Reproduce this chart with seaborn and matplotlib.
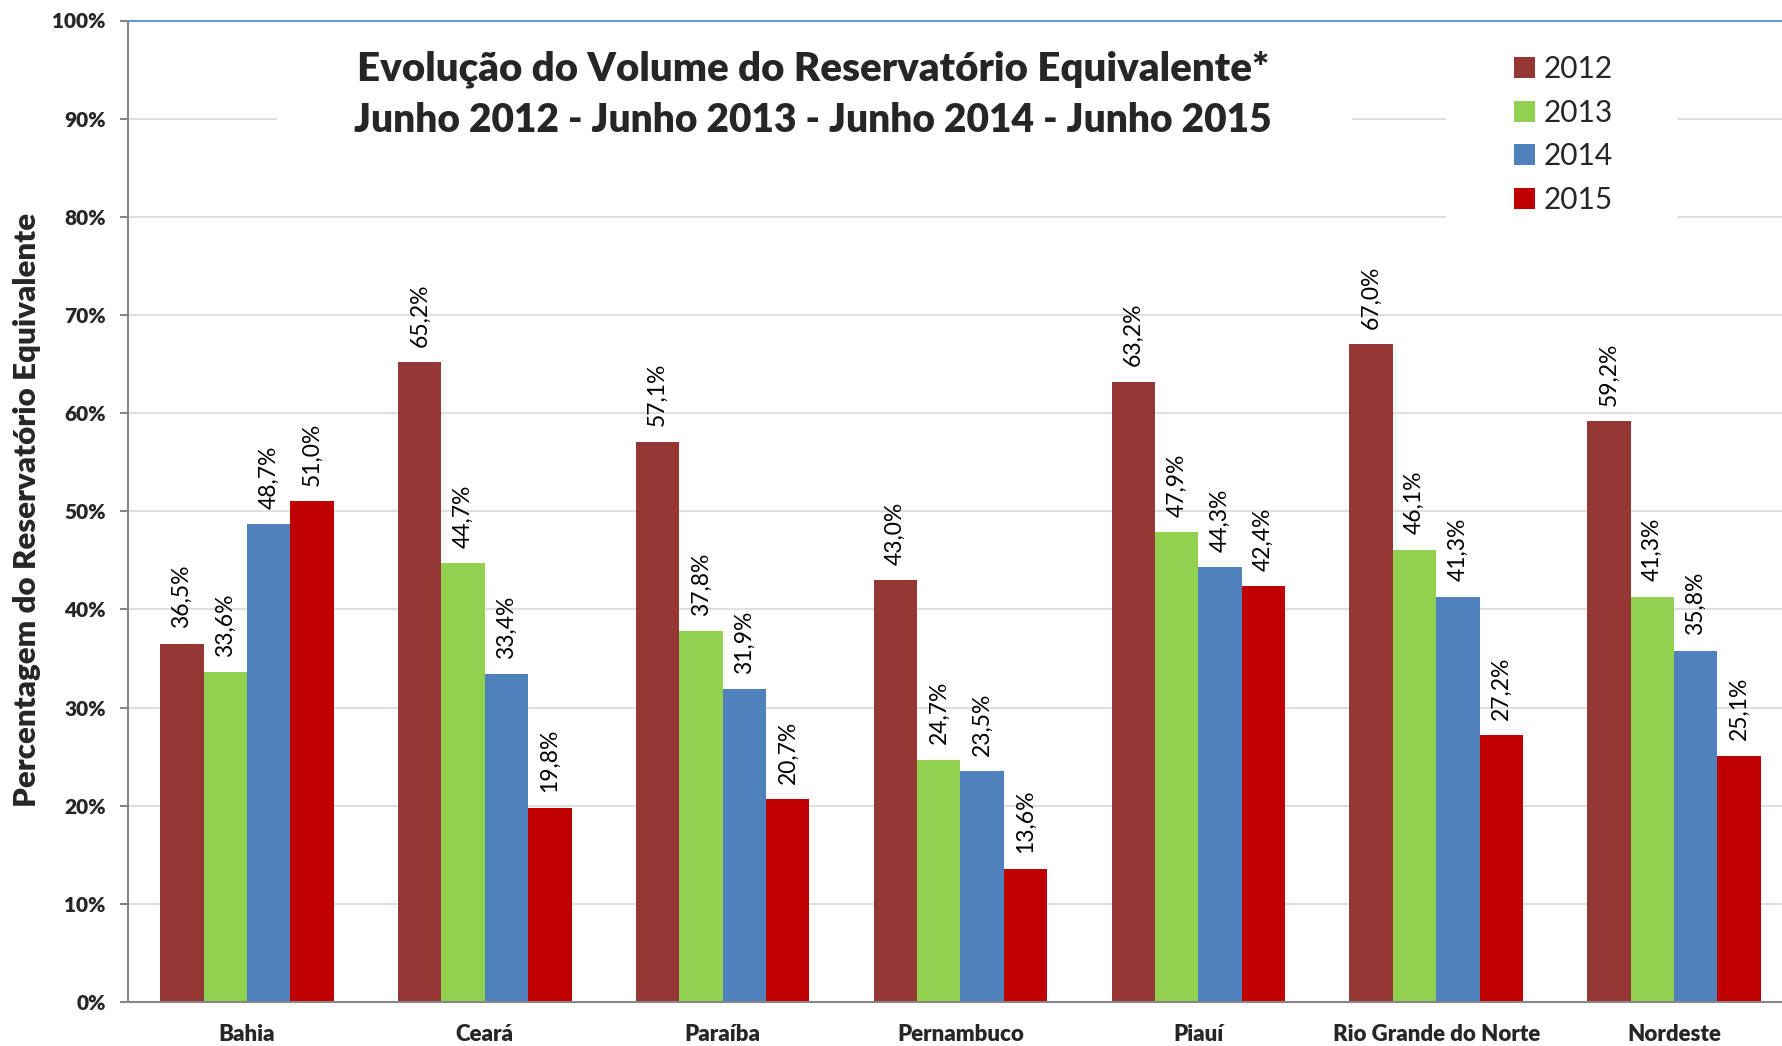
import matplotlib
matplotlib.use("Agg")
import matplotlib.pyplot as plt
import seaborn as sns
import pandas as pd
from matplotlib.patches import Rectangle, Patch

# ---- data ----
regions = ["Bahia", "Ceará", "Paraíba", "Pernambuco", "Piauí", "Rio Grande do Norte", "Nordeste"]
years = ["2012", "2013", "2014", "2015"]
v2012 = [36.5, 65.2, 57.1, 43.0, 63.2, 67.0, 59.2]
v2013 = [33.6, 44.7, 37.8, 24.7, 47.9, 46.1, 41.3]
v2014 = [48.7, 33.4, 31.9, 23.5, 44.3, 41.3, 35.8]
v2015 = [51.0, 19.8, 20.7, 13.6, 42.4, 27.2, 25.1]
colors = ["#953735", "#92d050", "#4f81bd", "#c00000"]
yticks = [0, 10, 20, 30, 40, 50, 60, 70, 80, 90, 100]
title1 = "Evolução do Volume do Reservatório Equivalente*"
title2 = "Junho 2012 - Junho 2013 - Junho 2014 - Junho 2015"
ylabel = "Percentagem do Reservatório Equivalente"

rows = []
for y, vals in zip(years, [v2012, v2013, v2014, v2015]):
    for r, v in zip(regions, vals):
        rows.append({"Região": r, "Ano": y, "Valor": v})
df = pd.DataFrame(rows)

sns.set_theme(style="white")
plt.rcParams["font.family"] = ["Lato", "DejaVu Sans"]

W, H = 1783, 1046
fig = plt.figure(figsize=(W / 100, H / 100), dpi=100)
ax = fig.add_axes([128 / W, (H - 1002) / H, 1665 / W, (1002 - 20.5) / H])

sns.barplot(data=df, x="Região", y="Valor", hue="Ano", order=regions, hue_order=years,
            palette=colors, width=0.73, gap=0, saturation=1, ax=ax, legend=False,
            edgecolor="none", linewidth=0)

for cont in ax.containers:
    labels = [f"{b.get_height():.1f}%".replace(".", ",") for b in cont]
    ax.bar_label(cont, labels=labels, rotation=90, padding=11, fontsize=16.5, color="black")

ax.set_xlim(-0.5, len(regions) - 0.5)
ax.set_ylim(0, 100)
ax.set_yticks(yticks)
ax.set_yticklabels([f"{t}%" for t in yticks], fontweight="heavy", fontsize=15)
ax.set_xlabel("")
ax.set_ylabel("")
ax.set_xticks(range(len(regions)))
ax.set_xticklabels(regions, fontweight="heavy", fontsize=16)
ax.set_xticks([i - 0.5 for i in range(len(regions))], minor=True)
ax.tick_params(axis="x", which="major", length=0, pad=16)
ax.tick_params(axis="x", which="minor", length=6, width=1.5, color="#868686", direction="out")
ax.tick_params(axis="y", which="major", length=6, width=1.5, color="#868686", direction="out", pad=10, left=True)

ax.set_axisbelow(True)
ax.yaxis.grid(True, color="#d9d9d9", linewidth=1.2)
ax.xaxis.grid(False)
for s in ["left", "bottom"]:
    ax.spines[s].set_color("#868686")
    ax.spines[s].set_linewidth(1.5)
ax.spines["right"].set_visible(False)
ax.spines["top"].set_color("#6a96d0")
ax.spines["top"].set_linewidth(1.5)

# white boxes behind title and legend (hide gridlines)
for (x0, y0, x1, y1) in [(277, 26, 1352, 150), (1446, 26, 1677, 228)]:
    ax.add_patch(Rectangle((x0 / W, 1 - y1 / H), (x1 - x0) / W, (y1 - y0) / H,
                           transform=fig.transFigure, facecolor="white", edgecolor="none",
                           zorder=0.8, clip_on=False))

fig.text(813 / W, 1 - 81 / H, title1, ha="center", va="baseline", fontsize=29, fontweight="heavy")
fig.text(813 / W, 1 - 132 / H, title2, ha="center", va="baseline", fontsize=28, fontweight="heavy")
fig.text(27 / W, 1 - 510 / H, ylabel, ha="center", va="center", rotation=90, fontsize=22.5, fontweight="heavy")

handles = [Patch(facecolor=c, edgecolor="none") for c in colors]
leg = ax.legend(handles, years, loc="upper left", bbox_to_anchor=(1514 / W, 1 - 55 / H),
                bbox_transform=fig.transFigure, frameon=False, fontsize=21.5,
                handlelength=0.7, handleheight=0.7, handletextpad=0.3, labelspacing=0.52,
                borderpad=0, borderaxespad=0)

fig.savefig("out.png", dpi=100)
